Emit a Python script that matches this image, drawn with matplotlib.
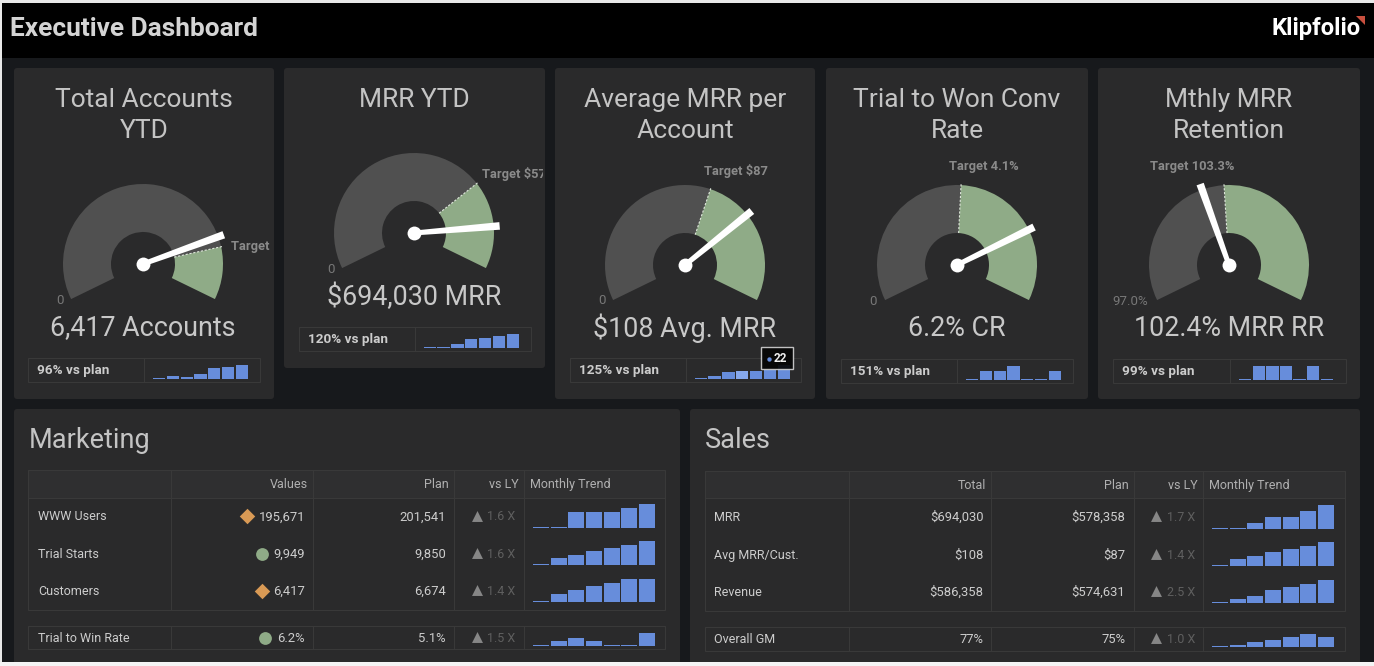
import numpy as np
import matplotlib
matplotlib.use("Agg")
import matplotlib.pyplot as plt
from matplotlib.patches import Rectangle, FancyBboxPatch, Polygon

W, H = 1374, 666
FONT = "Roboto"
plt.rcParams["font.family"] = [FONT, "DejaVu Sans"]

# ---------- data ----------
gauge_titles = ["Total Accounts\nYTD", "MRR YTD", "Average MRR per\nAccount", "Trial to Won Conv\nRate", "Mthly MRR\nRetention"]
gauge_values = [6417, 694030, 108, 6.2, 102.4]
gauge_targets = [6674, 578358, 87, 4.1, 103.3]
gauge_mins = [0, 0, 0, 0, 97.0]
gauge_maxs = [8000, 800000, 150, 8, 110]
gauge_min_labels = ["0", "0", "0", "0", "97.0%"]
gauge_target_labels = ["Target 6,674", "Target $578,358", "Target $87", "Target 4.1%", "Target 103.3%"]
gauge_readouts = ["6,417 Accounts", "$694,030 MRR", "$108 Avg. MRR", "6.2% CR", "102.4% MRR RR"]
gauge_vs_plan = ["96% vs plan", "120% vs plan", "125% vs plan", "151% vs plan", "99% vs plan"]
gauge_sparks = [
    [3, 10, 7, 15, 32, 36, 42],
    [3, 3, 11, 26, 29, 35, 41],
    [3, 9, 22, 25, 25, 27, 42],
    [3, 28, 28, 42, 3, 3, 28],
    [3, 42, 42, 42, 3, 42, 3],
]
mkt_rows = ["WWW Users", "Trial Starts", "Customers", "Trial to Win Rate"]
mkt_values = ["195,671", "9,949", "6,417", "6.2%"]
mkt_plan = ["201,541", "9,850", "6,674", "5.1%"]
mkt_status = ["D", "o", "D", "o"]
mkt_vsly = ["1.6 X", "1.6 X", "1.4 X", "1.5 X"]
mkt_sparks = [
    [3, 3, 47, 47, 47, 59, 71],
    [3, 19, 28, 40, 49, 58, 70],
    [3, 23, 35, 47, 58, 69, 69],
    [3, 15, 26, 15, 3, 3, 41],
]
sales_rows = ["MRR", "Avg MRR/Cust.", "Revenue", "Overall GM"]
sales_values = ["$694,030", "$108", "$586,358", "77%"]
sales_plan = ["$578,358", "$87", "$574,631", "75%"]
sales_vsly = ["1.7 X", "1.4 X", "2.5 X", "1.0 X"]
sales_sparks = [
    [3, 3, 18, 36, 36, 53, 70],
    [3, 20, 29, 40, 49, 58, 70],
    [3, 11, 20, 40, 49, 58, 70],
    [3, 8, 17, 23, 32, 41, 32],
]

# ---------- style ----------
BG = "#17191c"
PANEL = "#2a2a2b"
HEAD = "#2f2f30"
LINE = "#393939"
GRAY = "#505050"
GREEN = "#8fab87"
ORANGE = "#d99a55"
BLUE = "#678ddb"
CELL = "#cdcdcd"
HEADTXT = "#b0b0b0"

fig = plt.figure(figsize=(W / 100, H / 100), dpi=100, facecolor="white")
bg = fig.add_axes([0, 0, 1, 1], zorder=0)
bg.set_xlim(0, W)
bg.set_ylim(H, 0)
bg.axis("off")
top = fig.add_axes([0, 0, 1, 1], zorder=10)
top.set_xlim(0, W)
top.set_ylim(H, 0)
top.axis("off")
top.patch.set_alpha(0)


def rect(x0, y0, x1, y1, fc="none", ec="none", lw=0, z=1, ax=None):
    r = Rectangle((x0, y0), x1 - x0, y1 - y0, fc=fc, ec=ec, lw=lw, zorder=z)
    (ax or bg).add_patch(r)
    return r


def panel(x0, y0, x1, y1):
    p = FancyBboxPatch((x0 + 3, y0 + 3), x1 - x0 - 6, y1 - y0 - 6,
                       boxstyle="round,pad=3,rounding_size=3", fc=PANEL, ec="none", zorder=1)
    bg.add_patch(p)


def text(x, y, s, size, color=CELL, ha="left", weight="normal", clip=None, z=5, ax=None):
    t = (ax or bg).text(x, y + 0.1 * size, s, fontsize=size, color=color, ha=ha, va="center", fontweight=weight, zorder=z)
    if clip is not None:
        t.set_clip_path(clip)
        t.set_clip_on(True)
    return t


def px_axes(x0, y0, x1, y1, **kw):
    return fig.add_axes([x0 / W, 1 - y1 / H, (x1 - x0) / W, (y1 - y0) / H], **kw)


def spark(vals, x0, x1, base, ymax, px_h, hi=None):
    ax = px_axes(x0, base - px_h, x1, base, zorder=3)
    ax.patch.set_alpha(0)
    ax.axis("off")
    pos = np.arange(len(vals))
    bars = ax.bar(pos, vals, width=0.9, color=BLUE, edgecolor="none")
    if hi is not None:
        bars[hi].set_facecolor("#86a8ec")
    ax.set_xlim(-0.45, len(vals) - 0.55)
    ax.set_ylim(0, ymax)
    return ax


# backgrounds
rect(0, 0, W, H, fc=BG, z=0)
rect(0, 3, W, 58, fc="#000000", z=0.5)
rect(0, 0, W, 3, fc="#e8e8e8", z=0.6)
rect(0, 0, 2, H, fc="#e8e8e8", z=0.6)
rect(0, 662, W, H, fc="#f4f4f4", z=4)

text(10, 27, "Executive Dashboard", 18.9, color="#d4d4d4", weight="bold")
text(1361, 27, "Klipfolio", 17.2, color="#ffffff", ha="right", weight="bold")
bg.add_patch(Polygon([(1356, 16), (1365, 16), (1365, 25)], closed=True, fc="#c9503f", ec="none", zorder=5))

# ---------- gauge cards ----------
panels = [(14, 68, 274, 399), (284, 68, 545, 368), (555, 68, 815, 399), (826, 68, 1088, 399), (1098, 68, 1360, 399)]
centers = [(143, 264), (414, 233), (685, 265), (957, 265), (1229, 265)]
title_y = [(98, 129), (98,), (98, 129), (98, 129), (98, 129)]
readout_y = [326, 295, 326, 327, 327]
tables = [(28, 358, 260, 382, 144), (299, 327, 530.5, 351, 415), (570, 358, 800.6, 382, 686),
          (840.6, 359, 1073, 383, 957), (1113, 359, 1345.6, 383, 1229.5)]
spark_x = [(153, 248), (423.5, 519), (694.5, 790), (966, 1061), (1239, 1333)]
min_lbl = [(60, 300), (331, 269), (602, 300), (873, 301), (1112, 301)]
tgt_lbl = [(231, 246), (482, 173), (704, 170), (949, 166), (1150, 166)]

R_OUT, R_IN, R_BOX = 80.0, 32.0, 110.0
START = np.deg2rad(206.0)
SWEEP = np.deg2rad(232.0)

for i in range(5):
    x0, y0, x1, y1 = panels[i]
    panel(x0, y0, x1, y1)
    clip = Rectangle((x0, y0), x1 - x0 - 2, y1 - y0, transform=bg.transData)
    lines = gauge_titles[i].split("\n")
    for ln, yy in zip(lines, title_y[i]):
        text((x0 + x1) / 2, yy, ln, 19, ha="center", color="#c4c4c4")

    cx, cy = centers[i]
    lo, hi = gauge_mins[i], gauge_maxs[i]
    ang = lambda v: (v - lo) / (hi - lo) * SWEEP
    pa = px_axes(cx - R_BOX, cy - R_BOX, cx + R_BOX, cy + R_BOX, projection="polar", zorder=2)
    pa.patch.set_alpha(0)
    pa.set_theta_offset(START)
    pa.set_theta_direction(-1)
    pa.set_ylim(0, R_BOX)
    pa.axis("off")
    t_a, v_a, e_a = ang(gauge_targets[i]), ang(gauge_values[i]), SWEEP
    pa.bar(t_a / 2, R_OUT - R_IN, width=t_a, bottom=R_IN, color=GRAY, linewidth=0, align="center")
    pa.bar((t_a + e_a) / 2, R_OUT - R_IN, width=e_a - t_a, bottom=R_IN, color=GREEN, linewidth=0, align="center")
    pa.plot([t_a, t_a], [R_IN, R_OUT + 2], color="#dfe6dc", lw=0.8, ls=(0, (2, 1.5)))
    L = 86.0
    hw_tip, hw_base = 3.8, 2.6
    pa.fill([v_a - hw_base / 6, v_a - hw_tip / L, v_a + hw_tip / L, v_a + hw_base / 6],
            [6, L, L, 6], color="white", linewidth=0, zorder=5)
    pa.scatter([0], [0], s=100, color="white", linewidths=0, zorder=6)

    text(min_lbl[i][0], min_lbl[i][1], gauge_min_labels[i], 9.5, color="#777777", ha="center" if i < 4 else "left")
    text(tgt_lbl[i][0], tgt_lbl[i][1], gauge_target_labels[i], 9.3, color="#8a8a8a", weight="bold", clip=clip)
    text(cx, readout_y[i], gauge_readouts[i], 19.4, ha="center", color="#c8c8c8")

    tx0, ty0, tx1, ty1, dv = tables[i]
    rect(tx0, ty0, tx1, ty1, ec=LINE, lw=0.8, z=2)
    bg.plot([dv, dv], [ty0, ty1], color=LINE, lw=0.8, zorder=2)
    text(tx0 + 9, (ty0 + ty1) / 2 - 0.5, gauge_vs_plan[i], 9.7, weight="bold", color="#cccccc")
    spark(gauge_sparks[i], spark_x[i][0], spark_x[i][1], ty1 - 3, 42, 14, hi=3 if i == 2 else None)

# tooltip on the third card
rect(761, 347, 793, 369, fc="#050505", ec="#d0d0d0", lw=1, z=6, ax=top).set_alpha(0.92)
top.scatter([769], [359], s=10, color=BLUE, linewidths=0, zorder=7)
text(774, 358, "22", 8.5, color="#f0f0f0", weight="bold", z=7, ax=top)

# ---------- tables ----------


def table(px0, px1, title, title_x, x0, x1, cols, y_head, head, row_y, names, vals, plans, vsly, sparks,
          bases, label_x, val_r, head_r, plan_r, plan_head_r, tri_x, ly_r, ly_head_r, trend_x, sx, status=None, status_x=None):
    panel(px0, 409, px1, 668)
    text(title_x, 439, title, 19.5, color="#c4c4c4")
    rect(x0, y_head[0], x1, y_head[1], fc=HEAD, z=1.5)
    rect(x0, y_head[0], x1, y_head[2], ec=LINE, lw=0.8, z=2)
    bg.plot([x0, x1], [y_head[1], y_head[1]], color=LINE, lw=0.8, zorder=2)
    rect(x0, y_head[3], x1, y_head[4], ec=LINE, lw=0.8, z=2)
    for c in cols:
        bg.plot([c, c], [y_head[0], y_head[2]], color=LINE, lw=0.8, zorder=2)
        bg.plot([c, c], [y_head[3], y_head[4]], color=LINE, lw=0.8, zorder=2)
    hy = (y_head[0] + y_head[1]) / 2
    text(head_r, hy, head, 9, ha="right", color=HEADTXT)
    text(plan_head_r, hy, "Plan", 9, ha="right", color=HEADTXT)
    text(ly_head_r, hy, "vs LY", 9, ha="right", color=HEADTXT)
    text(trend_x, hy, "Monthly Trend", 9, color=HEADTXT)
    for k in range(4):
        y = row_y[k]
        text(label_x, y, names[k], 9, color=CELL)
        text(val_r, y, vals[k], 9.4, ha="right", color=CELL)
        text(plan_r, y, plans[k], 9.4, ha="right", color=CELL)
        bg.scatter([tri_x], [y - 0.5], marker="^", s=62, color="#868686", linewidths=0, zorder=5)
        text(ly_r, y, vsly[k], 9, ha="right", color="#5f5f5f")
        if status is not None:
            sc = ORANGE if status[k] == "D" else GREEN
            bg.scatter([status_x[k]], [y], marker=status[k], s=62 if status[k] == "D" else 85, color=sc, linewidths=0, zorder=5)
        spark(sparks[k], sx[0], sx[1], bases[k], 71, 23.7)


table(14, 680, "Marketing", 29, 28.4, 665, [171, 313, 454, 524], (470, 498, 610, 626, 649), "Values",
      [516, 553.5, 590.5, 637.5], mkt_rows, mkt_values, mkt_plan, mkt_vsly, mkt_sparks,
      [528, 564.7, 602, 646.3], 38, 305, 308, 446, 449, 477, 515.5, 518.5, 530, (533, 655),
      status=mkt_status, status_x=[247, 262, 262, 265])
table(690, 1360, "Sales", 705, 705, 1345, [848.5, 991, 1133.6, 1203], (471, 498, 611, 627, 651), "Total",
      [516.5, 554.5, 591.5, 638.5], sales_rows, sales_values, sales_plan, sales_vsly, sales_sparks,
      [528.7, 565.7, 603, 647.3], 714, 983.6, 986, 1125.5, 1128.5, 1156, 1195, 1197.7, 1209, (1212, 1334))

fig.savefig("out.png", dpi=100, facecolor="white")
